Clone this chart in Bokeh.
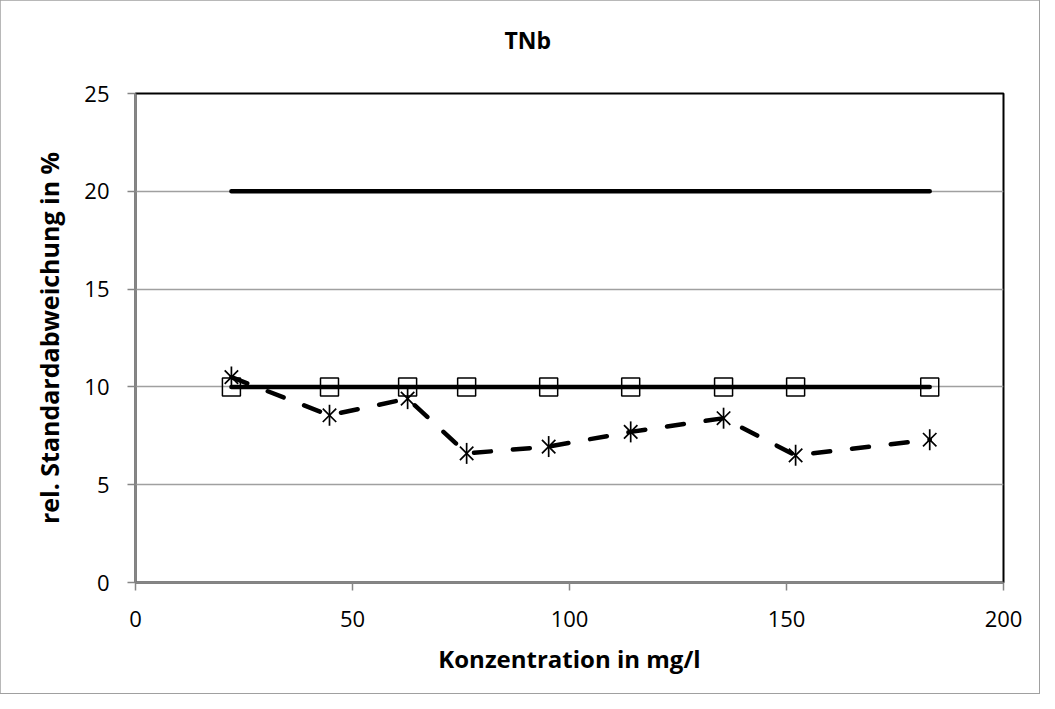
import numpy as np
from bokeh.plotting import figure
from bokeh.models import Range1d, FixedTicker, Title
from bokeh.embed import file_html
from bokeh.resources import INLINE

# data
conc = [22.1, 44.7, 62.7, 76.3, 95.2, 114.1, 135.5, 152.1, 183.0]
rsd_measured = [10.5, 8.55, 9.4, 6.6, 6.95, 7.7, 8.4, 6.5, 7.3]
limit_10 = [10, 10, 10, 10, 10, 10, 10, 10, 10]
limit_20 = [20, 20, 20, 20, 20, 20, 20, 20, 20]
title_text = "TNb"
x_label = "Konzentration in mg/l"
y_label = "rel. Standardabweichung in %"
x_ticks = [0, 50, 100, 150, 200]
y_ticks = [0, 5, 10, 15, 20, 25]

FONT = "Open Sans"

p = figure(width=1039, height=693, output_backend="svg", toolbar_location=None,
           x_range=Range1d(0, 200), y_range=Range1d(0, 25),
           min_border_left=135, min_border_right=36, min_border_top=93, min_border_bottom=111,
           styles={"outline": "2px solid #a0a0a0", "outline-offset": "-1px"})

p.title = Title(text=title_text, text_font=FONT, text_font_style="bold",
                text_font_size="23px", text_color="black", align="left",
                offset=369, standoff=0)
p.add_layout(Title(text=" ", text_font_size="10px", standoff=25), "above")

p.outline_line_color = "black"
p.outline_line_width = 2

p.xgrid.visible = False
p.ygrid.grid_line_color = "#a0a0a0"
p.ygrid.grid_line_width = 1.5
p.ygrid.ticker = FixedTicker(ticks=[5, 10, 15, 20])

for ax in (p.xaxis[0], p.yaxis[0]):
    ax.axis_line_color = "#868686"
    ax.axis_line_width = 2
    ax.major_tick_line_color = "#868686"
    ax.major_tick_line_width = 1.5
    ax.major_tick_out = 8
    ax.major_tick_in = 0
    ax.minor_tick_line_color = None
    ax.major_label_text_font = FONT
    ax.major_label_text_font_size = "22px"
    ax.major_label_text_color = "black"
    ax.axis_label_text_font = FONT
    ax.axis_label_text_font_style = "bold"
    ax.axis_label_text_color = "black"

p.xaxis.ticker = FixedTicker(ticks=x_ticks)
p.yaxis.ticker = FixedTicker(ticks=y_ticks)
p.xaxis.axis_label = x_label
p.yaxis.axis_label = y_label
p.xaxis.axis_label_text_font_size = "24px"
p.yaxis.axis_label_text_font_size = "25px"
p.xaxis.major_label_standoff = 20
p.yaxis.major_label_standoff = 18
p.xaxis.axis_label_standoff = 12
p.yaxis.axis_label_standoff = 15

# 20 % line
p.line(conc, limit_20, line_color="black", line_width=4.5, line_cap="round")
# 10 % line with squares
p.line(conc, limit_10, line_color="black", line_width=4.5, line_cap="round")
p.scatter(conc, limit_10, marker="square", size=18, fill_color=None,
          line_color="black", line_width=1.5)
# measured
p.line(conc, rsd_measured, line_color="black", line_width=4.5, line_dash="17 22",
       line_cap="round")
p.scatter(conc, rsd_measured, marker="x", size=19, line_color="black", line_width=1.7)
p.scatter(conc, rsd_measured, marker="dash", size=21, angle=np.pi / 2,
          line_color="black", line_width=1.7)

open("out.html", "w").write(file_html(p, INLINE))
